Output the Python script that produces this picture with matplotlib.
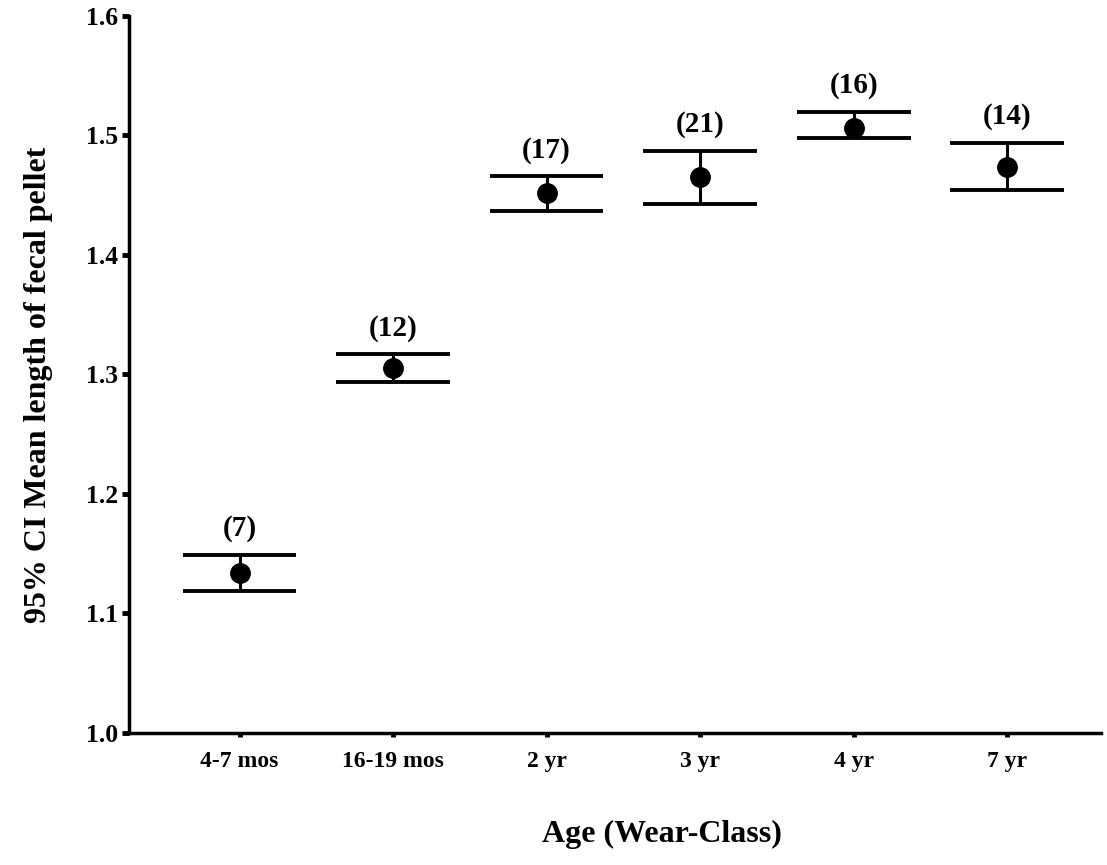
import matplotlib
matplotlib.use("Agg")

import numpy as np
import matplotlib.pyplot as plt

#--------------------------------
# DATA
#--------------------------------
ages = ["4-7 mos", "16-19 mos", "2 yr", "3 yr", "4 yr", "7 yr"]
means = [1.134, 1.305, 1.452, 1.465, 1.506, 1.474]
ci_low = [1.119, 1.294, 1.437, 1.443, 1.498, 1.454]
ci_high = [1.149, 1.317, 1.466, 1.487, 1.520, 1.494]
n_counts = ["(7)", "(12)", "(17)", "(21)", "(16)", "(14)"]
y_ticks = [1.0, 1.1, 1.2, 1.3, 1.4, 1.5, 1.6]

#--------------------------------
# FIGURE
#--------------------------------
plt.rcParams['font.family'] = ['Liberation Serif', 'DejaVu Serif']
plt.rcParams['font.weight'] = 'bold'

fig = plt.figure(figsize=(11.07, 8.65), dpi=100)
ax = fig.add_axes([0.1165, 0.1526, 0.878, 0.829])

x = np.arange(len(ages))
cap_half = 0.37

# stems, caps, mean dots
ax.vlines(x, ci_low, ci_high, color='black', lw=2.2)
ax.hlines(ci_low, x - cap_half, x + cap_half, color='black', lw=2.8)
ax.hlines(ci_high, x - cap_half, x + cap_half, color='black', lw=2.8)
ax.plot(x, means, 'o', color='black', ms=14, zorder=3)

for xi, hi, lab in zip(x, ci_high, n_counts):
    ax.annotate(lab, (xi, hi), xytext=(0, 9), textcoords='offset points',
                ha='center', va='bottom', fontsize=21, fontweight='bold')

ax.set_xlim(-0.72, 5.61)
ax.set_ylim(1.0, 1.6)
ax.set_xticks(x)
ax.set_xticklabels(ages, fontsize=17, fontweight='bold')
ax.set_yticks(y_ticks)
ax.set_yticklabels([f"{t:.1f}" for t in y_ticks], fontsize=18.5, fontweight='bold')

for s in ['top', 'right']:
    ax.spines[s].set_visible(False)
for s in ['left', 'bottom']:
    ax.spines[s].set_linewidth(2.5)

ax.tick_params(axis='y', direction='out', length=5, width=3.5, pad=3)
ax.tick_params(axis='x', direction='out', length=3, width=3.5, pad=10)

fig.text(0.035, 0.555, "95% CI Mean length of fecal pellet", rotation=90,
         ha='center', va='center', fontsize=23, fontweight='bold')
fig.text(0.598, 0.035, "Age (Wear-Class)", ha='center', va='center',
         fontsize=23, fontweight='bold')

plt.savefig("out.png", dpi=100)
